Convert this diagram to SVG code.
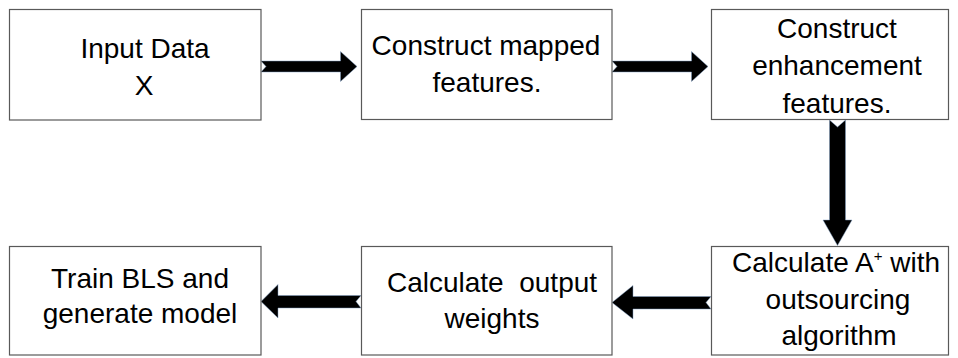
<svg xmlns="http://www.w3.org/2000/svg" width="958" height="358" viewBox="0 0 958 358">
<style>
.box{fill:#fff;stroke:#595959;stroke-width:1.2}
.t{font-family:"Liberation Sans",Arial,sans-serif;font-size:28px;fill:#000;text-anchor:middle;white-space:pre}
.arr{fill:#000;stroke:#7f9ec4;stroke-width:0.8;stroke-opacity:0.6}
</style>
<rect width="958" height="358" fill="#fff"/>
<g id="connectors">
<path class="arr" d="M261,61 L340.5,61 L340.5,51.5 L357,66.5 L340.5,81.5 L340.5,72 L261,72 L266,66.5 Z"/>
<path class="arr" d="M612,61 L691.5,61 L691.5,51.5 L708,66.5 L691.5,81.5 L691.5,72 L612,72 L617,66.5 Z"/>
<path class="arr" d="M829.5,120 L837.5,127 L845.5,120 L845.5,220 L852,220 L837.5,245.5 L823,220 L829.5,220 Z"/>
<path class="arr" d="M711,296.5 L633,296.5 L633,285.5 L612,302.5 L633,319 L633,309 L711,309 L706,302.5 Z"/>
<path class="arr" d="M361,295.5 L278,295.5 L278,284.5 L261,301.5 L278,318 L278,308 L361,308 L356,301.5 Z"/>
</g>
<g id="n1">
<rect class="box" x="9.5" y="9.5" width="251.5" height="110.5"/>
<text class="t" x="145" y="58">Input Data</text>
<text class="t" x="144" y="95">X</text>
</g>
<g id="n2">
<rect class="box" x="361.5" y="9.5" width="250.5" height="110"/>
<text class="t" x="486" y="55">Construct mapped</text>
<text class="t" x="487" y="92">features.</text>
</g>
<g id="n3">
<rect class="box" x="711.5" y="9.5" width="237" height="110"/>
<text class="t" x="837" y="38">Construct</text>
<text class="t" x="837" y="75">enhancement</text>
<text class="t" x="837" y="113">features.</text>
</g>
<g id="n4">
<rect class="box" x="711.5" y="246.5" width="237" height="108.5"/>
<text class="t" x="836" y="272">Calculate A<tspan dy="-11" font-size="15">+</tspan><tspan dy="11"> with</tspan></text>
<text class="t" x="838" y="309">outsourcing</text>
<text class="t" x="839" y="345">algorithm</text>
</g>
<g id="n5">
<rect class="box" x="361.5" y="246.5" width="250.5" height="108.5"/>
<text class="t" x="492" y="292">Calculate  output</text>
<text class="t" x="492" y="328">weights</text>
</g>
<g id="n6">
<rect class="box" x="9.5" y="246.5" width="251.5" height="108.5"/>
<text class="t" x="140" y="288">Train BLS and</text>
<text class="t" x="140" y="323">generate model</text>
</g>
</svg>
